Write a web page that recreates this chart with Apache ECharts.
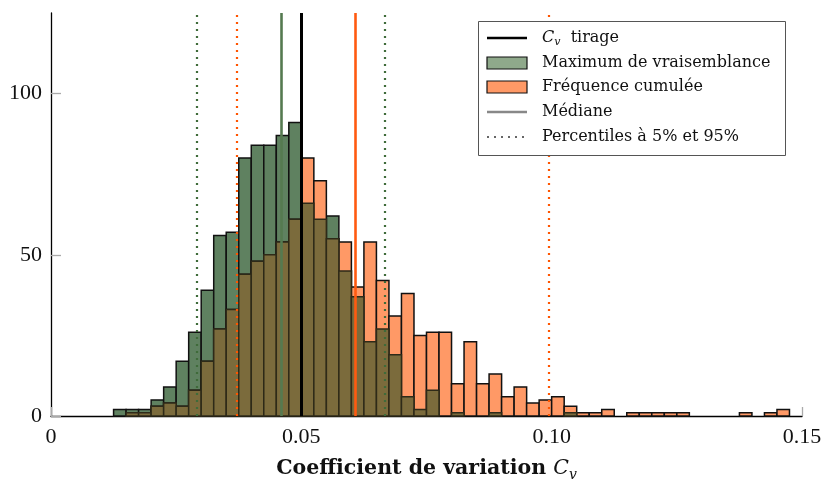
<!DOCTYPE html>
<html>
<head>
<meta charset="utf-8">
<script src="https://cdn.jsdelivr.net/npm/echarts@6/dist/echarts.min.js"></script>
<style>
html,body{margin:0;padding:0;background:#fff;}
#chart{width:827px;height:487px;}
</style>
</head>
<body>
<div id="chart"></div>
<script>
// ---- data ----
const firstBin = 0.0125;
const binWidth = 0.0025;
// counts per bin (bins 0.0125 .. 0.1475)
const maxVraisemblance = [2,2,2,5,9,17,26,39,56,57,80,84,84,87,91,66,61,62,45,37,23,27,19,6,2,8,0,1,0,0,1,0,0,0,0,0,1,0,0,0,0,0,0,0,0,0,0,0,0,0,0,0,0,0];
const frequenceCumulee = [0,1,1,3,4,3,8,17,27,33,44,48,50,54,61,80,73,55,54,40,54,42,31,38,25,26,26,10,23,10,13,6,9,4,5,6,3,1,1,2,0,1,1,1,1,1,0,0,0,0,1,0,1,2];
const cvTirage = 0.05;
const medianes = {mv: 0.0459, fc: 0.0607};
const percentilesMV = [0.0292, 0.0667];
const percentilesFC = [0.0372, 0.0994];
const xTicks = [0, 0.05, 0.10, 0.15];
const xTickLabels = ['0', '0.05', '0.10', '0.15'];
const yTicks = [0, 50, 100];

// ---- build ----
const binStarts = maxVraisemblance.map((_, i) => +(firstBin + i * binWidth).toFixed(6));
const dataMV = binStarts.map((b, i) => [b, b + binWidth, maxVraisemblance[i]]);
const dataFC = binStarts.map((b, i) => [b, b + binWidth, frequenceCumulee[i]]);
const dataOverlap = binStarts.map((b, i) => [b, b + binWidth, Math.min(maxVraisemblance[i], frequenceCumulee[i])]);

const GREEN = '#5f8160', ORANGE = '#ff9966', OLIVE = '#7b6b3c';
const FONT = '"Liberation Serif", "DejaVu Serif", serif';
const LFONT = '"DejaVu Serif", serif';

function barRender(fill, stroke) {
  return function (params, api) {
    const h = api.value(2);
    if (!(h > 0)) return null;
    const p0 = api.coord([api.value(0), 0]);
    const p1 = api.coord([api.value(1), h]);
    return {
      type: 'rect',
      shape: {x: p0[0], y: p1[1], width: p1[0] - p0[0], height: p0[1] - p1[1]},
      style: {fill: fill, stroke: stroke, lineWidth: 1.5}
    };
  };
}

const dotted = [2, 5];
const chart = echarts.init(document.getElementById('chart'), null, {renderer: 'canvas'});
const option = {
  animation: false,
  backgroundColor: '#ffffff',
  grid: {left: 51, right: 25, top: 13, bottom: 65.5, containLabel: false},
  xAxis: {
    type: 'value', min: 0, max: 0.15, interval: 0.05,
    axisLine: {show: true, lineStyle: {color: '#000', width: 1.3}},
    axisTick: {show: true, inside: true, length: 9, lineStyle: {color: '#aaa', width: 1.3}},
    axisLabel: {
      margin: 10, color: '#111', fontFamily: FONT, fontSize: 22,
      formatter: function (v) { const i = xTicks.findIndex(t => Math.abs(t - v) < 1e-9); return i >= 0 ? xTickLabels[i] : ''; }
    },
    splitLine: {show: false},
    name: '{b|Coefficient de variation }{c|C}{s|v}',
    nameLocation: 'middle', nameGap: 40,
    nameTextStyle: {
      rich: {
        b: {fontFamily: LFONT, fontWeight: 'bold', fontSize: 20.5, color: '#111', lineHeight: 26, verticalAlign: 'middle'},
        c: {fontFamily: LFONT, fontStyle: 'italic', fontSize: 20.5, color: '#111', lineHeight: 26, verticalAlign: 'middle'},
        s: {fontFamily: LFONT, fontStyle: 'italic', fontSize: 14, color: '#111', lineHeight: 12, verticalAlign: 'bottom'}
      }
    }
  },
  yAxis: {
    type: 'value', min: 0, max: 125,
    axisLine: {show: true, lineStyle: {color: '#000', width: 1.3}},
    axisTick: {show: true, inside: true, length: 10, lineStyle: {color: '#aaa', width: 1.3}, customValues: yTicks},
    axisLabel: {margin: 9, color: '#111', fontFamily: FONT, fontSize: 22, padding: [4, 0, 0, 0], customValues: yTicks},
    splitLine: {show: false}
  },
  series: [
    {type: 'custom', name: 'Maximum de vraisemblance', renderItem: barRender(GREEN, '#111'), data: dataMV, encode: {x: [0, 1], y: 2}, z: 2, silent: true},
    {type: 'custom', name: 'Fréquence cumulée', renderItem: barRender(ORANGE, '#111'), data: dataFC, encode: {x: [0, 1], y: 2}, z: 3, silent: true},
    {type: 'custom', name: 'overlap', renderItem: barRender(OLIVE, '#2e2a18'), data: dataOverlap, encode: {x: [0, 1], y: 2}, z: 4, silent: true},
    {
      type: 'line', data: [], z: 10, silent: true,
      markLine: {
        silent: true, precision: 6, symbol: ['none', 'none'], label: {show: false}, animation: false,
        data: [
          {xAxis: percentilesMV[0], lineStyle: {color: '#3f6b3a', width: 2.2, type: dotted}},
          {xAxis: percentilesMV[1], lineStyle: {color: '#3f6b3a', width: 2.2, type: dotted}},
          {xAxis: percentilesFC[0], lineStyle: {color: '#ff5500', width: 2.2, type: dotted}},
          {xAxis: percentilesFC[1], lineStyle: {color: '#ff5500', width: 2.2, type: dotted}},
          {xAxis: medianes.mv, lineStyle: {color: '#557a50', width: 2.6, type: 'solid'}},
          {xAxis: medianes.fc, lineStyle: {color: '#ff5a10', width: 2.6, type: 'solid'}},
          {xAxis: cvTirage, lineStyle: {color: '#000', width: 3, type: 'solid'}}
        ]
      }
    }
  ],
  graphic: [
    {type: 'rect', shape: {x: 478.5, y: 21.5, width: 307, height: 134}, style: {fill: '#fff', stroke: '#555', lineWidth: 1}, z: 100},
    {type: 'line', shape: {x1: 487, y1: 38, x2: 527, y2: 38}, style: {stroke: '#000', lineWidth: 2.6}, z: 101},
    {type: 'rect', shape: {x: 487, y: 57, width: 40, height: 12}, style: {fill: '#8fa98b', stroke: '#111', lineWidth: 1.2}, z: 101},
    {type: 'rect', shape: {x: 487, y: 81, width: 40, height: 12}, style: {fill: '#ff9966', stroke: '#111', lineWidth: 1.2}, z: 101},
    {type: 'line', shape: {x1: 487, y1: 112, x2: 527, y2: 112}, style: {stroke: '#888', lineWidth: 2.4}, z: 101},
    {type: 'line', shape: {x1: 487, y1: 137, x2: 527, y2: 137}, style: {stroke: '#666', lineWidth: 2, lineDash: [2, 5]}, z: 101},
    {type: 'text', x: 542, y: 38, z: 101, style: {
      text: '{c|C}{s|v}{t|  tirage}', verticalAlign: 'middle',
      rich: {
        c: {fontFamily: LFONT, fontStyle: 'italic', fontSize: 16, fill: '#111', lineHeight: 20, verticalAlign: 'middle'},
        s: {fontFamily: LFONT, fontStyle: 'italic', fontSize: 11, fill: '#111', lineHeight: 10, verticalAlign: 'bottom'},
        t: {fontFamily: LFONT, fontSize: 16, fill: '#111', lineHeight: 20, verticalAlign: 'middle'}
      }}},
    {type: 'text', x: 542, y: 63, z: 101, style: {text: 'Maximum de vraisemblance', fontFamily: LFONT, fontSize: 16, fill: '#111', verticalAlign: 'middle'}},
    {type: 'text', x: 542, y: 87, z: 101, style: {text: 'Fréquence cumulée', fontFamily: LFONT, fontSize: 16, fill: '#111', verticalAlign: 'middle'}},
    {type: 'text', x: 542, y: 112, z: 101, style: {text: 'Médiane', fontFamily: LFONT, fontSize: 16, fill: '#111', verticalAlign: 'middle'}},
    {type: 'text', x: 542, y: 137, z: 101, style: {text: 'Percentiles à 5% et 95%', fontFamily: LFONT, fontSize: 16, fill: '#111', verticalAlign: 'middle'}}
  ]
};
chart.setOption(option);
</script>
</body>
</html>
